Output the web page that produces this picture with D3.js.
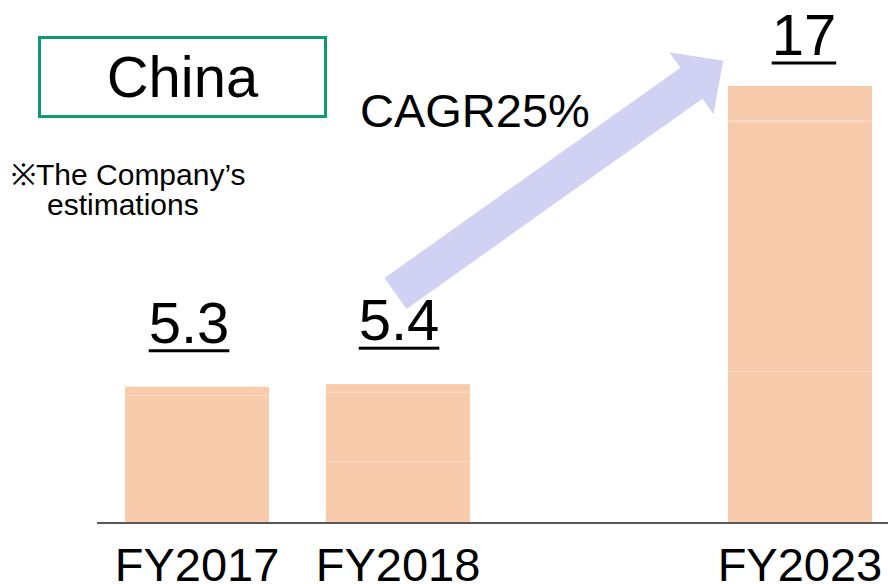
<!DOCTYPE html>
<html>
<head>
    <title>China - CAGR</title>
    <script src="https://d3js.org/d3.v7.min.js"></script>
    <style>
        body {
            margin: 0;
            background: #fff;
        }
        text {
            font-family: "Liberation Sans", Arial, sans-serif;
            fill: #000;
        }
        .bar {
            fill: #f7cbac;
        }
        .seg-line {
            stroke: #fadbc7;
            stroke-width: 1;
        }
    </style>
</head>
<body>
<div id="chart"></div>
<script>
    // fiscal years shown (the years between 2018 and 2023 are skipped, a blank slot keeps the gap)
    const categories = ["FY2017", "FY2018", "FY2023"];
    const slots = ["FY2017", "FY2018", "gap", "FY2023"];
    // stacked parts of each bar, bottom to top (faint lines inside the bars)
    const partA = [4.97, 2.40, 5.90];
    const partB = [0.00, 2.70, 9.75];
    const partC = [0.33, 0.30, 1.35];
    const totals = [5.3, 5.4, 17];
    const totalLabels = ["5.3", "5.4", "17"];
    const cagrLabel = "CAGR25%";
    const title = "China";
    const noteLines = ["※The Company’s", "estimations"];

    const width = 888;
    const height = 584;

    const svg = d3.select("#chart")
        .append("svg")
        .attr("width", width)
        .attr("height", height);

    const x = d3.scaleBand()
        .domain(slots)
        .range([125, 872])
        .paddingInner(0.283)
        .paddingOuter(0);

    const y = d3.scaleLinear()
        .domain([0, 17])
        .range([523, 86]);

    // arrow behind everything else
    const L = 402;
    svg.append("polygon")
        .attr("points", [[0, -19], [L - 39, -19], [L - 39, -38], [L, 0], [L - 39, 38], [L - 39, 19], [0, 19]].join(" "))
        .attr("transform", "translate(395.5,293.5) rotate(-35.4)")
        .attr("fill", "#d1d1f3");

    const stacked = categories.map((c, i) => {
        const parts = [partA[i], partB[i], partC[i]];
        let acc = 0;
        return parts.map(v => {
            const s = { cat: c, y0: acc, y1: acc + v };
            acc += v;
            return s;
        }).filter(s => s.y1 > s.y0);
    });

    const bars = svg.append("g");
    stacked.forEach(segs => {
        bars.selectAll(null)
            .data(segs)
            .enter()
            .append("rect")
            .attr("class", "bar")
            .attr("x", d => x(d.cat))
            .attr("width", x.bandwidth())
            .attr("y", d => y(d.y1))
            .attr("height", d => y(d.y0) - y(d.y1));

        // faint separator lines between parts
        bars.selectAll(null)
            .data(segs.slice(1))
            .enter()
            .append("line")
            .attr("class", "seg-line")
            .attr("x1", d => x(d.cat))
            .attr("x2", d => x(d.cat) + x.bandwidth())
            .attr("y1", d => Math.round(y(d.y0)) + 0.5)
            .attr("y2", d => Math.round(y(d.y0)) + 0.5);
    });

    // baseline
    svg.append("line")
        .attr("x1", 97)
        .attr("x2", 888)
        .attr("y1", y(0))
        .attr("y2", y(0))
        .attr("stroke", "#595959")
        .attr("stroke-width", 2);

    // category labels
    const xAxis = d3.axisBottom(x)
        .tickValues(categories)
        .tickSize(0)
        .tickPadding(0);

    const axisG = svg.append("g")
        .attr("transform", `translate(0,${y(0)})`)
        .call(xAxis);
    axisG.select(".domain").remove();
    axisG.selectAll("text")
        .attr("y", 58)
        .attr("dy", null)
        .style("font-size", "47px")
        .style("font-family", "'Liberation Sans', Arial, sans-serif")
        .attr("fill", "#000");

    // underlined value labels
    const labelG = svg.append("g");
    categories.forEach((c, i) => {
        const cx = x(c) + x.bandwidth() / 2 + (i === 0 ? -8 : i === 2 ? 4 : 1);
        const by = Math.max(55, y(totals[i]) - 44);
        const t = labelG.append("text")
            .attr("x", cx)
            .attr("y", by)
            .attr("text-anchor", "middle")
            .style("font-size", "58px")
            .text(totalLabels[i]);
        const w = t.node().getComputedTextLength();
        labelG.append("rect")
            .attr("x", cx - w / 2)
            .attr("y", by + 6.5)
            .attr("width", w)
            .attr("height", 3)
            .attr("fill", "#000");
    });

    // CAGR label
    svg.append("text")
        .attr("x", 360)
        .attr("y", 127)
        .style("font-size", "47px")
        .text(cagrLabel);

    // title box
    svg.append("rect")
        .attr("x", 39.5)
        .attr("y", 37.5)
        .attr("width", 286)
        .attr("height", 79)
        .attr("fill", "none")
        .attr("stroke", "#0e9b74")
        .attr("stroke-width", 3);

    svg.append("text")
        .attr("x", 182.5)
        .attr("y", 97)
        .attr("text-anchor", "middle")
        .style("font-size", "58px")
        .text(title);

    // note
    svg.append("text")
        .attr("x", 11)
        .attr("y", 185)
        .style("font-size", "30px")
        .text(noteLines[0]);
    svg.append("text")
        .attr("x", 47)
        .attr("y", 215)
        .style("font-size", "30px")
        .text(noteLines[1]);
</script>
</body>
</html>
